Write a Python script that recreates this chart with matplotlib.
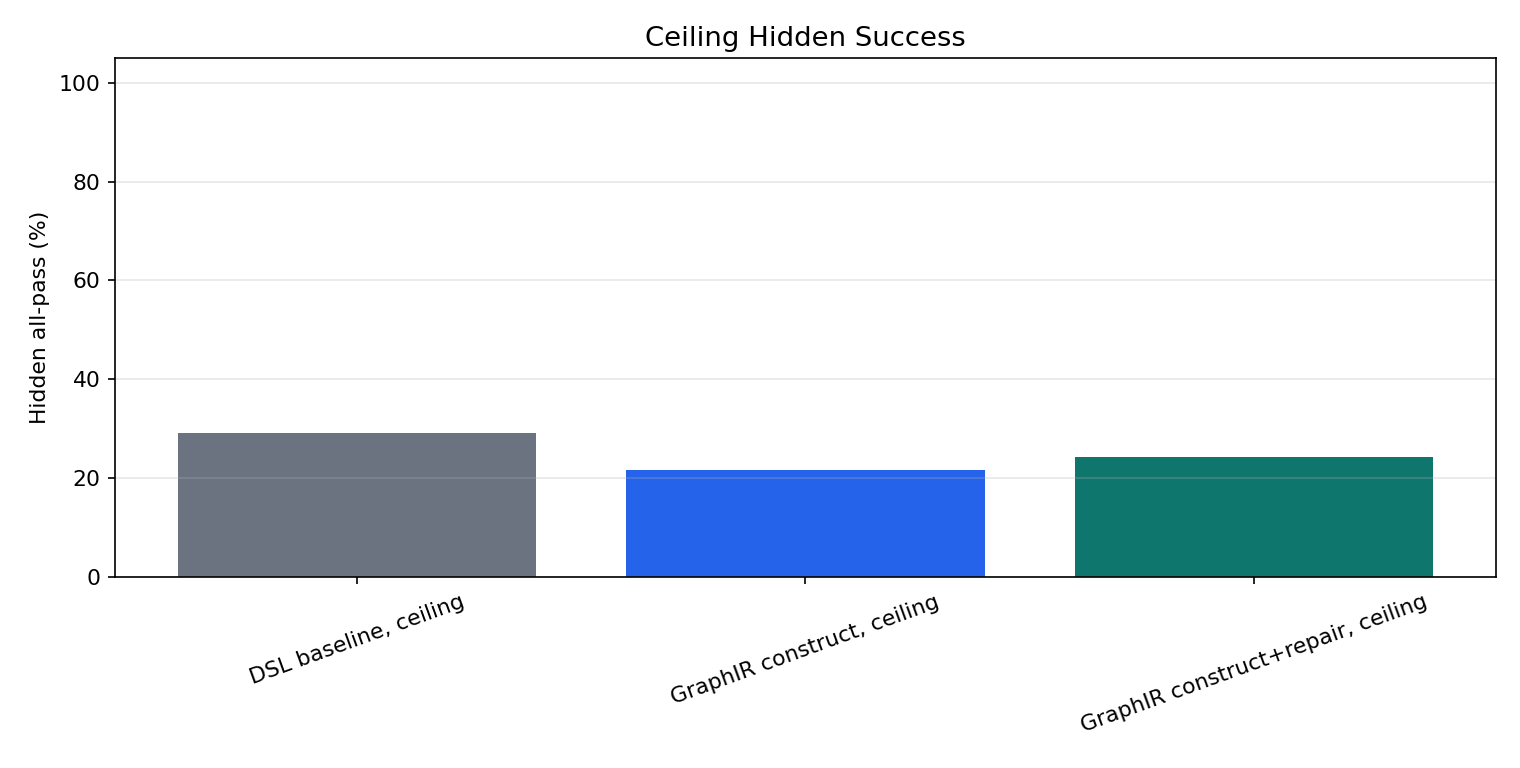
import matplotlib
matplotlib.use("Agg")
import matplotlib.pyplot as plt

categories = ["DSL baseline, ceiling", "GraphIR construct, ceiling", "GraphIR construct+repair, ceiling"]
values = [29.2, 21.6, 24.3]
colors = ["#6b7280", "#2563eb", "#0f766e"]

plt.rcParams["font.size"] = 10.5
fig = plt.figure(figsize=(1520/150, 768/150), dpi=150)
ax = fig.add_axes([115/1520, 1-577/768, (1496-115)/1520, (577-58)/768])
x = list(range(len(categories)))
ax.bar(x, values, color=colors, width=0.8)
ax.set_xticks(x)
ax.set_xticklabels(categories, rotation=20, ha="center", fontsize=10.5)
ax.tick_params(axis="y", labelsize=10.5)
ax.set_ylim(0, 105)
ax.set_ylabel("Hidden all-pass (%)", fontsize=10.5)
ax.set_title("Ceiling Hidden Success", fontsize=13.2)
ax.grid(axis="y", alpha=0.3)
fig.savefig("out.png", dpi=150)
